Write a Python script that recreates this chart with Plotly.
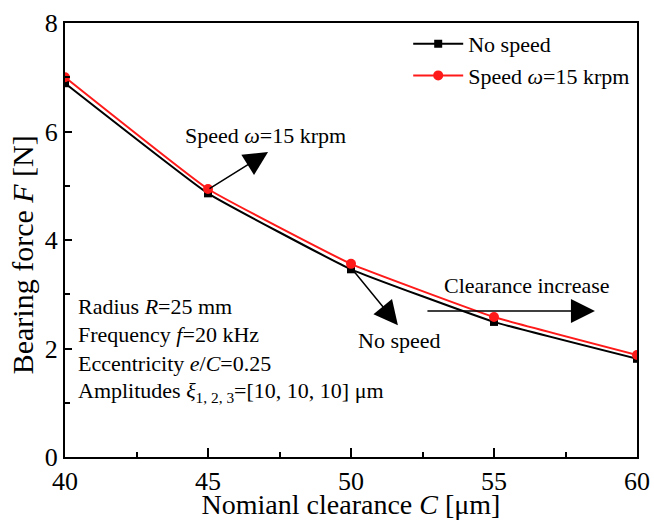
import plotly.graph_objects as go

clearance = [40, 45, 50, 55, 60]
no_speed = [6.89, 4.86, 3.46, 2.49, 1.81]
speed_15 = [7.00, 4.94, 3.56, 2.58, 1.88]

x_ticks = [40, 45, 50, 55, 60]
y_ticks = [0, 2, 4, 6, 8]

FONT = "Liberation Serif, Times New Roman, serif"

fig = go.Figure()
fig.add_trace(go.Scatter(
    x=clearance, y=no_speed, name="No speed", mode="lines+markers",
    line=dict(color="black", width=2, shape="spline", smoothing=0.3),
    marker=dict(symbol="square", size=8, color="black"),
))
fig.add_trace(go.Scatter(
    x=clearance, y=speed_15, name="Speed <i>ω</i>=15 krpm", mode="lines+markers",
    line=dict(color="#ff1a1a", width=2, shape="spline", smoothing=0.3),
    marker=dict(symbol="circle", size=10, color="#ff1a1a"),
))

axis_common = dict(
    showline=True, linecolor="black", linewidth=2, mirror=True,
    ticks="inside", tickcolor="black", tickwidth=1.5,
    showgrid=False, zeroline=False, automargin=False,
    tickfont=dict(family=FONT, size=26, color="black"),
)

fig.update_xaxes(
    range=[40, 60], tickvals=x_ticks, ticklen=9,
    minor=dict(ticks="inside", tickvals=[42.5, 47.5, 52.5, 57.5], ticklen=5, tickcolor="black", tickwidth=1.5),
    title=dict(text="Nomianl clearance <i>C</i> [μm]", font=dict(family=FONT, size=28, color="black"), standoff=0),
    **axis_common,
)
fig.update_yaxes(
    range=[0, 8], tickvals=y_ticks, ticklen=7,
    minor=dict(ticks="inside", tickvals=[1, 3, 5, 7], ticklen=5, tickcolor="black", tickwidth=1.5),
    **axis_common,
)

ann_font = dict(family=FONT, size=22, color="black")
annotations = []
# y-axis title (placed slightly below the plot centre, as in the reference)
annotations.append(dict(x=-0.075, y=0.465, xref="paper", yref="paper", text="Bearing force <i>F</i> [N]",
                        textangle=-90, showarrow=False, xanchor="center", yanchor="middle",
                        font=dict(family=FONT, size=30, color="black")))
# arrows
for (tx, ty, hx, hy) in [(45.0, 4.93, 47.1, 5.62), (50.03, 3.47, 51.64, 2.43), (52.62, 2.69, 58.53, 2.69)]:
    annotations.append(dict(
        x=hx, y=hy, ax=tx, ay=ty, xref="x", yref="y", axref="x", ayref="y",
        text="", showarrow=True, arrowhead=2, arrowsize=3.2, arrowwidth=1.5, arrowcolor="black",
    ))
# labels
annotations.append(dict(x=47.0, y=5.92, xref="x", yref="y", text="Speed <i>ω</i>=15 krpm",
                        showarrow=False, font=ann_font))
annotations.append(dict(x=51.68, y=2.14, xref="x", yref="y", text="No speed",
                        showarrow=False, font=ann_font))
annotations.append(dict(x=56.15, y=3.17, xref="x", yref="y", text="Clearance increase",
                        showarrow=False, font=ann_font))
info_lines = [
    ("Radius <i>R</i>=25 mm", 2.77),
    ("Frequency <i>f</i>=20 kHz", 2.25),
    ("Eccentricity <i>e</i>/<i>C</i>=0.25", 1.73),
    ("Amplitudes <i>ξ</i><sub>1, 2, 3</sub>=[10, 10, 10] μm", 1.20),
]
for txt, yy in info_lines:
    annotations.append(dict(x=40.4, y=yy, xref="x", yref="y", text=txt, xanchor="left",
                            showarrow=False, font=ann_font))

fig.update_layout(
    width=654, height=520,
    margin=dict(l=65, r=17, t=23, b=63),
    plot_bgcolor="white", paper_bgcolor="white",
    showlegend=True,
    legend=dict(x=0.6, y=1.0, xanchor="left", yanchor="top",
                font=dict(family=FONT, size=22, color="black"),
                bgcolor="rgba(0,0,0,0)", itemwidth=50, tracegroupgap=0),
    annotations=annotations,
)

fig.write_html("out.html")
